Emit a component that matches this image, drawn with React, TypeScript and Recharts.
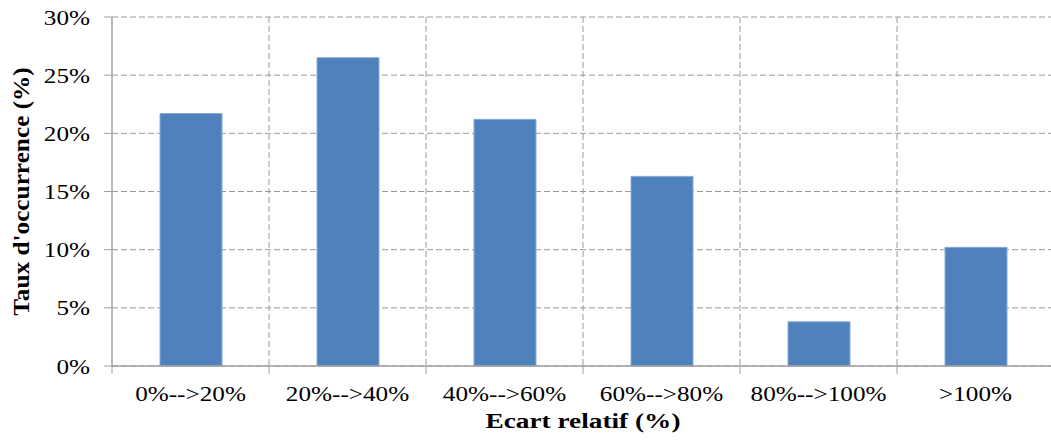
import React from 'react';
import { BarChart, Bar, XAxis, YAxis, CartesianGrid } from 'recharts';

// tranches d'écart relatif
const categories = ['0%-->20%', '20%-->40%', '40%-->60%', '60%-->80%', '80%-->100%', '>100%'];
// taux d'occurrence (%)
const occurrence = [21.7, 26.5, 21.2, 16.3, 3.8, 10.2];
const yTicks = [0, 5, 10, 15, 20, 25, 30];

const data = categories.map((cat, i) => ({ cat, value: occurrence[i] }));

const FONT = '"Liberation Serif", "Times New Roman", serif';
const STRETCH = 1.2;
const AXIS_GREY = '#a0a0a0';

// tick label + small tick mark on the left border of each class
const XTick = ({ x, y, payload }: any) => {
  const half = payload.offset || 0;
  return (
    <g>
      <line x1={x - half} x2={x - half} y1={y - 8} y2={y} stroke={AXIS_GREY} />
      <g transform={`translate(${x},${y}) scale(${STRETCH},1)`}>
        <text textAnchor="middle" y={27} fontSize={21} fontFamily={FONT} fill="#000">
          {payload.value}
        </text>
      </g>
    </g>
  );
};

const YTick = ({ x, y, payload }: any) => (
  <g transform={`translate(${x},${y}) scale(${STRETCH},1)`}>
    <text textAnchor="end" y={7.5} fontSize={21} fontFamily={FONT} fill="#000">
      {payload.value}%
    </text>
  </g>
);

const YLabel = ({ viewBox }: any) => {
  const cy = viewBox.y + viewBox.height / 2;
  return (
    <g transform={`translate(${viewBox.x + 17},${cy}) rotate(-90) scale(1.1,1)`}>
      <text textAnchor="middle" fontSize={23} fontWeight="bold" fontFamily={FONT} fill="#000">
        Taux d'occurrence (%)
      </text>
    </g>
  );
};

const XLabel = ({ viewBox }: any) => {
  const cx = viewBox.x + viewBox.width / 2;
  return (
    <g transform={`translate(${cx},428) scale(1.3,1)`}>
      <text textAnchor="middle" fontSize={21} fontWeight="bold" fontFamily={FONT} fill="#000">
        Ecart relatif (%)
      </text>
    </g>
  );
};

// vertical grid lines on the class borders
const classBorders = ({ offset }: any) =>
  categories.map((_, i) => offset.left + (offset.width * (i + 1)) / categories.length);

export default function App() {
  return (
    <div style={{ position: 'absolute', left: 0, top: 0, width: 1051, height: 441, overflow: 'hidden', background: '#fff' }}>
      <BarChart
        width={1060}
        height={441}
        data={data}
        margin={{ top: 17, right: 6, bottom: 15, left: 12 }}
        barSize={62}
      >
        <CartesianGrid
          stroke="#9a9a9a"
          strokeDasharray="6 3"
          verticalCoordinatesGenerator={classBorders}
        />
        <XAxis
          dataKey="cat"
          height={60}
          axisLine={{ stroke: AXIS_GREY, strokeWidth: 1.5 }}
          tickLine={false}
          tickSize={8}
          tickMargin={0}
          tick={<XTick />}
          interval={0}
          label={{ content: <XLabel /> }}
        />
        <YAxis
          width={100}
          domain={[0, 30]}
          ticks={yTicks}
          axisLine={{ stroke: AXIS_GREY, strokeWidth: 1.5 }}
          tickLine={{ stroke: AXIS_GREY }}
          tickSize={8}
          tickMargin={14}
          tick={<YTick />}
          label={{ content: <YLabel /> }}
        />
        <Bar
          dataKey="value"
          fill="#4f81bd"
          stroke="#8aaad6"
          strokeWidth={1}
          isAnimationActive={false}
        />
      </BarChart>
    </div>
  );
}
